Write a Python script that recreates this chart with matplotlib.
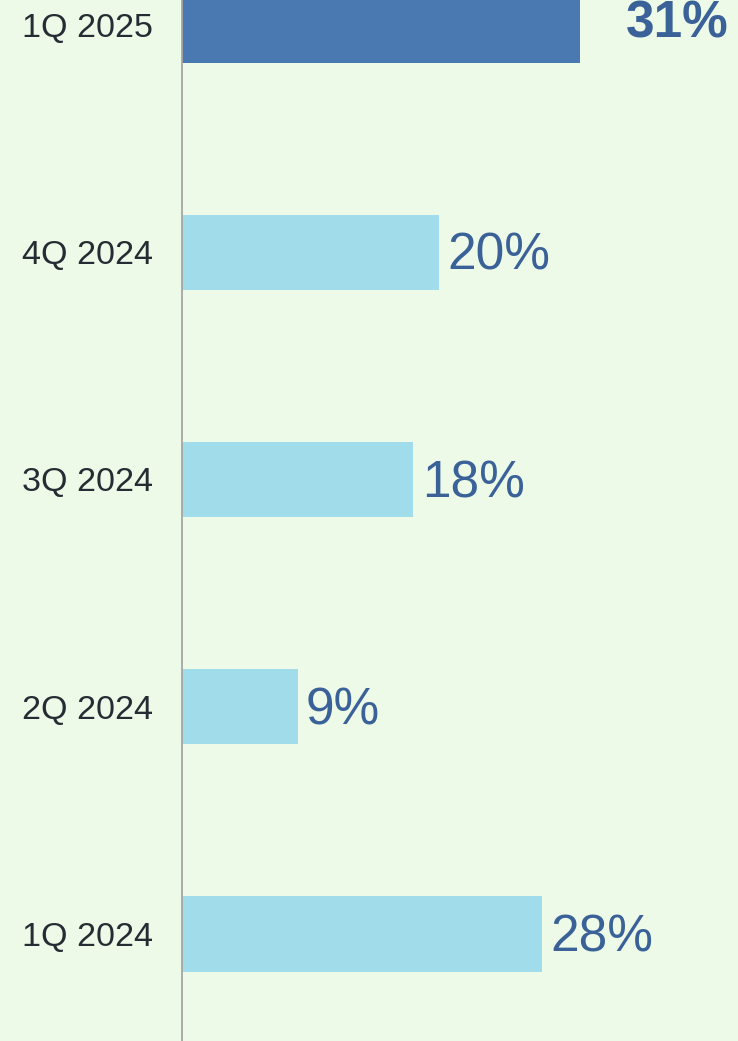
import matplotlib
matplotlib.use("Agg")
import matplotlib.pyplot as plt

categories = ["1Q 2024", "2Q 2024", "3Q 2024", "4Q 2024", "1Q 2025"]
values = [28, 9, 18, 20, 31]
labels = ["28%", "9%", "18%", "20%", "31%"]

bg = "#EEFAE8"
light = "#A0DCEA"
dark = "#4A78B0"
label_col = "#3A6299"

plt.rcParams['font.family'] = ['Liberation Sans', 'DejaVu Sans']

fig = plt.figure(figsize=(7.38, 10.41), dpi=100)
fig.patch.set_facecolor(bg)
ax = fig.add_axes([182/738, 0, 1 - 182/738, 1])
ax.set_facecolor(bg)

pos = list(range(len(categories)))
colors = [light] * (len(categories) - 1) + [dark]
ax.barh(pos, values, height=0.332, color=colors, zorder=2)

ax.set_xlim(0, 556/12.85)
ax.set_ylim(-0.471, 4.11)

for i, (v, lab) in enumerate(zip(values, labels)):
    last = i == len(values) - 1
    ax.annotate(lab, (v, i), xytext=(33 if last else 6, 1 if last else -3),
                textcoords="offset points", va="center", ha="left",
                fontsize=37, color=label_col,
                fontweight="bold" if last else "normal")

ax.set_yticks(pos)
ax.set_yticklabels(categories, fontsize=24.6, color="#262C33")
ax.tick_params(axis="y", length=0, pad=21)
ax.set_xticks([])
for s in ["top", "right", "bottom"]:
    ax.spines[s].set_visible(False)
ax.spines["left"].set_color("#A6A6A6")
ax.spines["left"].set_linewidth(1.3)

fig.savefig("out.png", dpi=100, facecolor=bg)
